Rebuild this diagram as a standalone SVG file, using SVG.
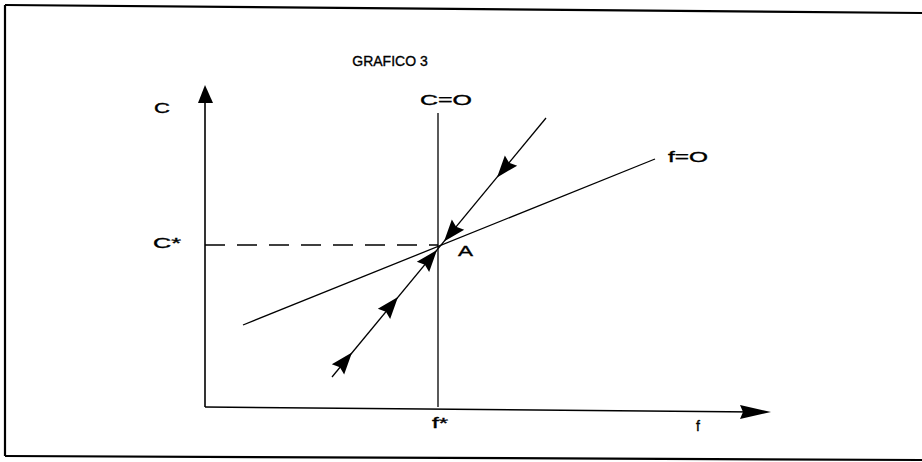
<svg xmlns="http://www.w3.org/2000/svg" xmlns:xlink="http://www.w3.org/1999/xlink" width="922" height="462" viewBox="0 0 922 462">
<style>
.ln{stroke:#000;fill:none;stroke-width:1.3}
.ax{stroke:#000;fill:none;stroke-width:1.6}
.fr{stroke:#000;fill:none;stroke-width:2.2}
.t{font-family:"Liberation Sans",Arial,sans-serif;font-size:14px;fill:#000;stroke:#000;stroke-width:0.35}
</style>
<defs>
<path id="ah" d="M0,0 L-22,-8 L-19,0 L-22,8 Z" fill="#000"/>
</defs>
<rect width="922" height="462" fill="#fff"/>
<g id="frame">
<path class="fr" d="M5,5 L922,13"/>
<path class="fr" d="M5,5 L5,456"/>
<path class="fr" d="M5,456 L922,460"/>
</g>
<g id="title"><text class="t" x="390" y="66" text-anchor="middle">GRAFICO 3</text></g>
<g id="connectors">
<path class="ax" d="M205,407 L205,100"/>
<polygon points="205,85 198,103 213,103" fill="#000"/>
<path class="ax" d="M205,407 L755,412"/>
<polygon points="771,412 740,405 743,412 740,419" fill="#000"/>
<path class="ln" d="M438,113 L438,407"/>
<path class="ln" d="M205,245 L438,245" stroke-dasharray="20 12"/>
<path class="ln" d="M243,325 L655,159"/>
<path class="ln" d="M332,377 L546,118"/>
<use xlink:href="#ah" transform="translate(352,352.5) rotate(-50.4)"/>
<use xlink:href="#ah" transform="translate(398,297) rotate(-50.4)"/>
<use xlink:href="#ah" transform="translate(437,250) rotate(-50.4)"/>
<use xlink:href="#ah" transform="translate(497,177.5) rotate(129.6)"/>
<use xlink:href="#ah" transform="translate(444,241.5) rotate(129.6)"/>
</g>
<g id="labels">
<text class="t" x="154" y="113" textLength="16" lengthAdjust="spacingAndGlyphs">C</text>
<text class="t" x="153" y="248" textLength="28" lengthAdjust="spacingAndGlyphs">C*</text>
<text class="t" x="420" y="105" textLength="52" lengthAdjust="spacingAndGlyphs">C=O</text>
<text class="t" x="668" y="162" textLength="40" lengthAdjust="spacingAndGlyphs">f=O</text>
<text class="t" x="458" y="256" textLength="15" lengthAdjust="spacingAndGlyphs">A</text>
<text class="t" x="432" y="428" textLength="16" lengthAdjust="spacingAndGlyphs">f*</text>
<text class="t" x="696" y="431">f</text>
</g>
</svg>
